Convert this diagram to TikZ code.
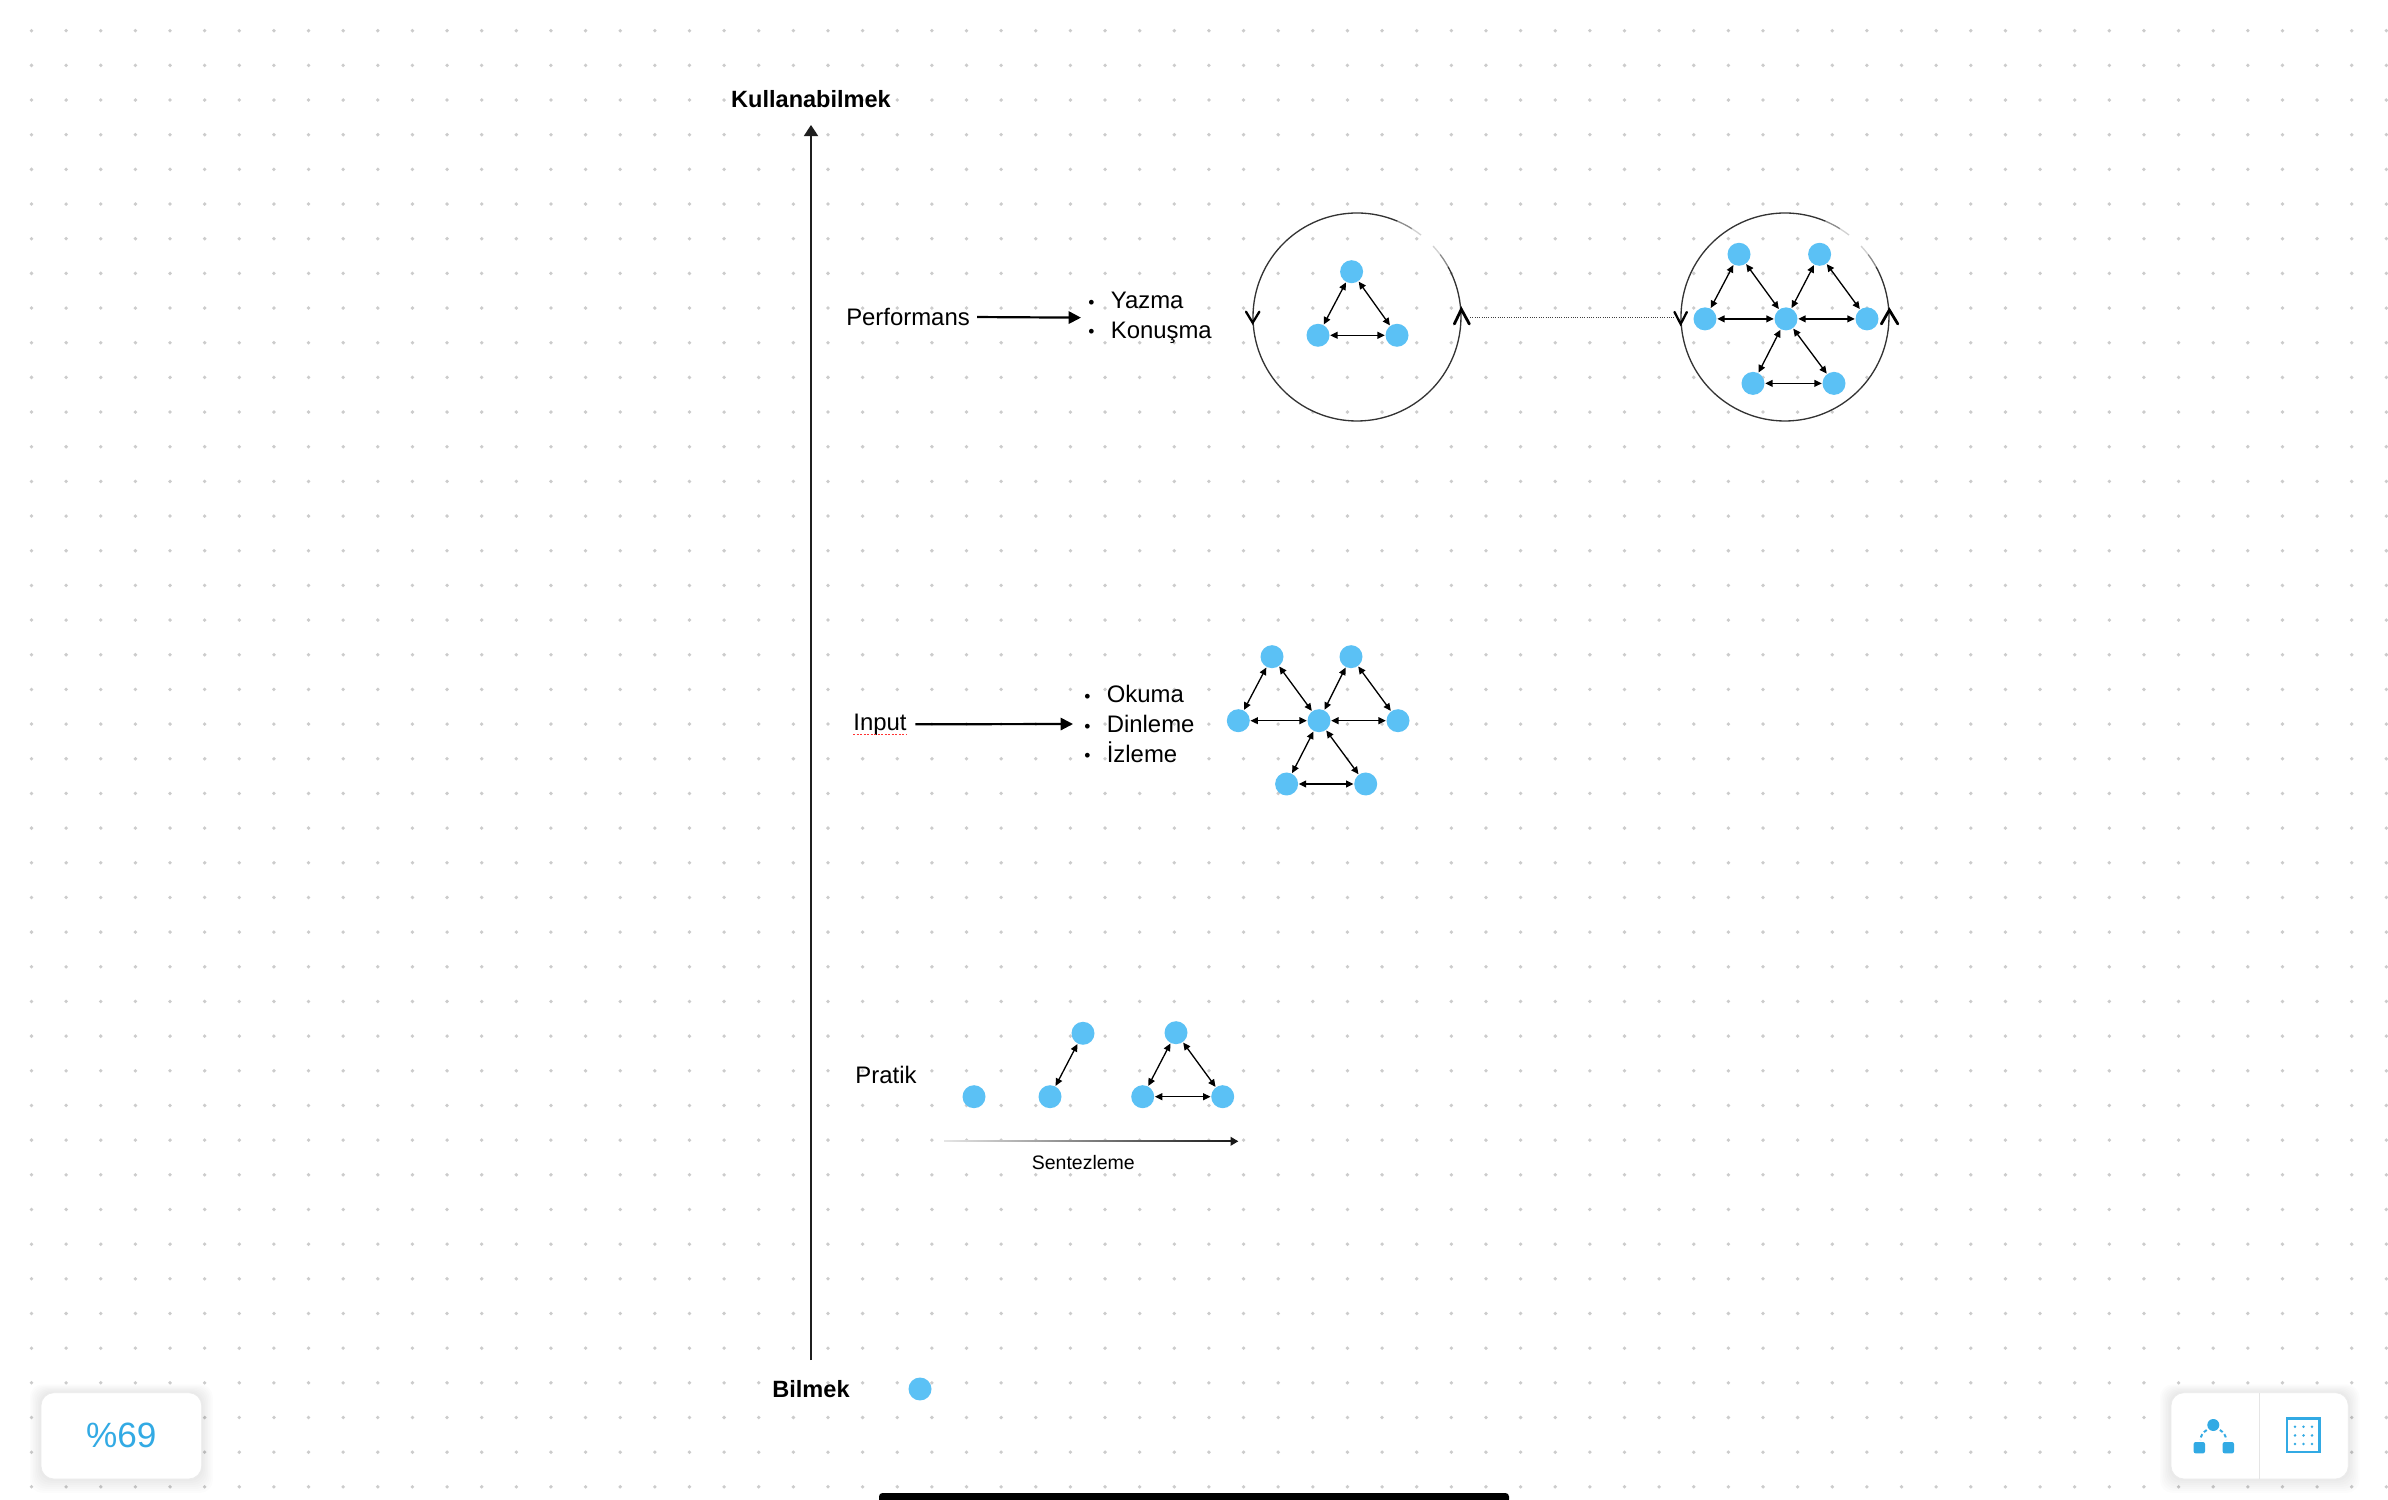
\documentclass[tikz,border=0pt]{standalone}
\usepackage{fontspec}
\setmainfont{Liberation Sans}
\usetikzlibrary{arrows.meta,positioning}
\definecolor{blob}{RGB}{91,193,245}
\definecolor{uiblue}{RGB}{50,170,228}
\definecolor{dotgrey}{RGB}{204,204,204}
\tikzset{
  lbl/.style      = {font=\fontsize{13.6}{16.9}\selectfont, inner sep=0pt},
  axislbl/.style  = {font=\bfseries\fontsize{13.4}{16}\selectfont, inner sep=0pt},
  items/.style    = {lbl, align=left, anchor=west},
  blob/.style     = {circle, fill=blob, inner sep=0pt, minimum size=0.46cm},
  twoway/.style   = {{Triangle[length=4.2pt,width=3.9pt]}-{Triangle[length=4.2pt,width=3.9pt]},
                     line width=0.75pt, shorten <=0.2pt, shorten >=0.2pt},
  feed/.style     = {-{Triangle[length=7pt,width=7pt]}, line width=1.25pt},
  ringspot/.style = {circle, inner sep=0pt, minimum size=4.16cm},
  chev/.style     = {line width=1.3pt, line cap=round},
  panel/.style    = {fill=white, draw=black!8, line width=0.4pt, rounded corners=0.26cm}
}
\newcommand\itembul{\raisebox{0.3pt}{\fontsize{10}{10}\selectfont\textbullet}\hspace{9.3pt}}
% circle with a faded gap near the top right
\newcommand\ringarc[1]{%
  \draw[black!80, line width=0.75pt] ([shift={(67:2.08cm)}]#1.center) arc[start angle=67, end angle=389, radius=2.08cm];
  \draw[black!45, line width=0.75pt] ([shift={(58:2.08cm)}]#1.center) arc[start angle=58, end angle=67, radius=2.08cm];
  \draw[black!18, line width=0.75pt] ([shift={(52:2.08cm)}]#1.center) arc[start angle=52, end angle=58, radius=2.08cm];
  \draw[black!45, line width=0.75pt] ([shift={(37:2.08cm)}]#1.center) arc[start angle=37, end angle=29, radius=2.08cm];
  \draw[black!18, line width=0.75pt] ([shift={(43:2.08cm)}]#1.center) arc[start angle=43, end angle=37, radius=2.08cm];
}
\begin{document}
\begin{tikzpicture}[x=0.02cm, y=0.02cm]
  \useasboundingbox (0,0) rectangle (2388,1499);
  \fill[white] (0,0) rectangle (2388,1499);
  \foreach \i in {0,...,68} {
    \foreach \j in {0,...,42} {
      \fill[dotgrey] (31.5+34.63*\i, 1468.3-34.67*\j) circle[radius=1.9];
    }
  }

  % axis
  \coordinate (axisLow) at (811,139);
  \coordinate (axisHigh) at (811,1374);
  \draw[-{Triangle[length=6.3pt,width=8pt]}, line width=1pt, black!88] (axisLow) -- (axisHigh);
  \node[axislbl] (useEnd) at (811,1400) {Kullanabilmek};
  \node[axislbl] (knowEnd) at (811,110) {Bilmek};
  \node[blob] (knowDot) at (920,110) {};

  % Performans
  \node[lbl] (perf) at (908,1182) {Performans};
  \node[items] (perfItems) at (1088,1181.3) {\itembul Yazma\\\itembul Konuşma};
  \draw[feed, shorten <=4pt, shorten >=4pt] (perf.east) -- (perfItems.west);

  \node[ringspot] (ringA) at (1357,1182) {};
  \ringarc{ringA}
  \draw[chev] ([shift={(-6.7,5.3)}]ringA.west) -- ([shift={(0,-5.7)}]ringA.west) -- ([shift={(6.7,5.3)}]ringA.west);
  \draw[chev, line width=1.6pt] ([shift={(-7,-7)}]ringA.east) -- ([shift={(0,7.7)}]ringA.east) -- ([shift={(8,-7)}]ringA.east);
  \node[blob] (aTop) at (1351.6,1227.3) {};
  \node[blob] (aLeft) at (1318,1163.7) {};
  \node[blob] (aRight) at (1397,1163.7) {};
  \draw[twoway] (aTop) -- (aLeft);
  \draw[twoway] (aTop) -- (aRight);
  \draw[twoway] (aLeft) -- (aRight);

  \node[ringspot] (ringB) at (1785,1182) {};
  \ringarc{ringB}
  \draw[chev] ([shift={(-6.2,5)}]ringB.west) -- ([shift={(0,-7)}]ringB.west) -- ([shift={(6.2,5)}]ringB.west);
  \draw[chev, line width=1.6pt] ([shift={(-8,-7)}]ringB.east) -- ([shift={(0,7)}]ringB.east) -- ([shift={(8.5,-7)}]ringB.east);
  \draw[black!75, line width=0.55pt, dash pattern=on 0.55pt off 0.75pt, shorten <=5pt, shorten >=3.5pt] (ringA.east) -- (ringB.west);
  \node[blob] (bTL) at (1739,1244.7) {};
  \node[blob] (bTR) at (1819.6,1244.7) {};
  \node[blob] (bML) at (1705,1180.1) {};
  \node[blob] (bC) at (1786,1180.1) {};
  \node[blob] (bMR) at (1867,1180.1) {};
  \node[blob] (bBL) at (1753,1115.6) {};
  \node[blob] (bBR) at (1834,1115.6) {};
  \foreach \u/\v in {bTL/bML, bTL/bC, bTR/bC, bTR/bMR, bML/bC, bC/bMR, bC/bBL, bC/bBR, bBL/bBR}
    \draw[twoway] (\u) -- (\v);

  % Input
  \node[lbl] (input) at (880,774.7) {Input};
  \draw[red!80, line width=0.8pt, dash pattern=on 1.2pt off 0.8pt] ([yshift=0.5pt]input.south west) -- ([yshift=0.5pt]input.south east);
  \node[items] (inputItems) at (1084,775) {\itembul Okuma\\\itembul Dinleme\\\itembul İzleme};
  \draw[feed, shorten <=4.8pt, shorten >=6.3pt] (input.east) -- (inputItems.west);
  \node[blob] (iTL) at (1272,842.3) {};
  \node[blob] (iTR) at (1351,842.3) {};
  \node[blob] (iML) at (1238.3,778.3) {};
  \node[blob] (iC) at (1319,778.3) {};
  \node[blob] (iMR) at (1398,778.3) {};
  \node[blob] (iBL) at (1286.6,715) {};
  \node[blob] (iBR) at (1365.7,715) {};
  \foreach \u/\v in {iTL/iML, iTL/iC, iTR/iC, iTR/iMR, iML/iC, iC/iMR, iC/iBL, iC/iBR, iBL/iBR}
    \draw[twoway] (\u) -- (\v);

  % Pratik
  \node[lbl] (pratik) at (886,424) {Pratik};
  \node[blob] (pOne) at (974,402.3) {};
  \node[blob] (pTwoLow) at (1050,402.3) {};
  \node[blob] (pTwoHigh) at (1083,465.7) {};
  \node[blob] (pTop) at (1176,466.3) {};
  \node[blob] (pLeft) at (1142.7,402.3) {};
  \node[blob] (pRight) at (1222.7,402.3) {};
  \draw[twoway] (pTwoLow) -- (pTwoHigh);
  \draw[twoway] (pTop) -- (pLeft);
  \draw[twoway] (pTop) -- (pRight);
  \draw[twoway] (pLeft) -- (pRight);
  \coordinate (synthFrom) at (944,357.7);
  \coordinate (synthTo) at (1238.3,357.7);
  \shade[left color=black!10, right color=black!90] ([yshift=-0.35pt]synthFrom) rectangle ([yshift=0.35pt,xshift=-3pt]synthTo);
  \draw[-{Triangle[length=4.4pt,width=5pt]}, line width=0.7pt, black!90] ([xshift=-3.5pt]synthTo) -- (synthTo);
  \node[font=\fontsize{11.1}{13}\selectfont, inner sep=0pt] (synthLbl) at (1083.3,336.5) {Sentezleme};

  % toolbar panels
  \foreach \k in {1,...,7} {
    \fill[black, opacity=0.012, rounded corners=0.26cm] (41-1.6*\k,20-2*\k) rectangle (201.7+1.6*\k,106.3+1.2*\k);
    \fill[black, opacity=0.012, rounded corners=0.26cm] (2171-1.6*\k,20-2*\k) rectangle (2348.3+1.6*\k,106.3+1.2*\k);
  }
  \draw[panel] (41,20) rectangle (201.7,106.3);
  \node[font=\fontsize{20}{24}\selectfont, text=uiblue, inner sep=0pt] (zoomLevel) at (121.3,63.3) {\%69};
  \draw[panel] (2171,20) rectangle (2348.3,106.3);
  \draw[black!10, line width=0.5pt] (2259,20) -- (2259,106.3);
  \fill[uiblue] (2213.3,74) circle[radius=6];
  \fill[uiblue, rounded corners=1.2pt] (2193.6,45.6) rectangle (2205,57);
  \fill[uiblue, rounded corners=1.2pt] (2222.6,45.6) rectangle (2234,57);
  \draw[uiblue, line width=1.1pt, dash pattern=on 2pt off 1.5pt] (2206.7,69) to[bend right=25] (2200.3,59);
  \draw[uiblue, line width=1.1pt, dash pattern=on 2pt off 1.5pt] (2219.9,69) to[bend left=25] (2226.3,59);
  \draw[uiblue, line width=1.5pt] (2287,47) rectangle (2319.7,80.4);
  \foreach \u in {0,1,2}
    \foreach \v in {0,1,2}
      \fill[uiblue] (2295+8.5*\u,55+8.6*\v) circle[radius=1.4];

  \fill[black, rounded corners=2pt] (879,-4) rectangle (1509,6);
\end{tikzpicture}
\end{document}
